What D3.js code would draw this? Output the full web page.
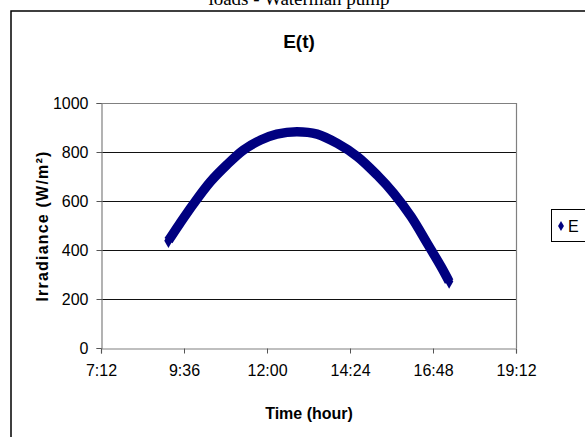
<!DOCTYPE html>
<html>
<head>
<meta charset="utf-8">
<script src="https://cdn.jsdelivr.net/npm/d3@7"></script>
<style>
  body { margin: 0; background: #fff; }
  svg { display: block; }
</style>
</head>
<body>
<div id="chart"></div>
<script>
// Datos
const times = ["9:09", "9:29", "9:53", "10:22", "10:50", "11:19", "11:49", "12:17", "12:52",
               "13:27", "14:02", "14:37", "15:11", "15:40", "16:10", "16:38", "17:02", "17:16"];
const irradiance = [438, 509, 590, 679, 747, 808, 849, 873, 883,
                    873, 835, 781, 706, 631, 536, 427, 332, 271];
const xTicks = ["7:12", "9:36", "12:00", "14:24", "16:48", "19:12"];
const yTicks = [0, 200, 400, 600, 800, 1000];
const seriesName = "E";

const toHours = s => { const p = s.split(":"); return +p[0] + (+p[1]) / 60; };
const data = times.map((t, i) => ({ t: toHours(t), v: irradiance[i] }));

const svgWidth = 585, svgHeight = 437;
const margin = { top: 103, right: 70, bottom: 89, left: 101 };
const width = 516 - margin.left;
const height = 348 - margin.top;
const font = "'Liberation Sans', Arial, sans-serif";

const root = d3.select("#chart").append("svg")
    .attr("width", svgWidth)
    .attr("height", svgHeight);

// texto de arriba (cortado, como en la figura) y marco exterior
root.append("text")
    .attr("x", 299).attr("y", 5)
    .attr("text-anchor", "middle")
    .attr("font-family", "'Liberation Serif', 'Times New Roman', serif")
    .attr("font-size", 19)
    .text("loads - Waterman pump");

root.append("rect")
    .attr("x", 11).attr("y", 11)
    .attr("width", 640).attr("height", 500)
    .attr("fill", "none")
    .attr("stroke", "#000")
    .attr("stroke-width", 1.5);

root.append("text")
    .attr("x", 299).attr("y", 48)
    .attr("text-anchor", "middle")
    .attr("font-family", font)
    .attr("font-weight", "bold")
    .attr("font-size", 19)
    .text("E(t)");

const svg = root.append("g")
    .attr("transform", `translate(${margin.left}, ${margin.top})`);

const x = d3.scaleLinear()
    .domain([toHours(xTicks[0]), toHours(xTicks[xTicks.length - 1])])
    .range([0, width]);

const y = d3.scaleLinear()
    .domain([0, 1000])
    .range([height, 0]);

// rejilla
svg.selectAll(".grid")
    .data(yTicks.filter(d => d > 0 && d < 1000))
    .enter().append("line")
    .attr("x1", 0).attr("x2", width)
    .attr("y1", d => Math.round(y(d)) + 0.5)
    .attr("y2", d => Math.round(y(d)) + 0.5)
    .attr("stroke", "#111")
    .attr("stroke-width", 1);

// borde del area
svg.append("path")
    .attr("d", `M0.5,0.5H${width + 0.5}V${height}`)
    .attr("fill", "none")
    .attr("stroke", "#808080")
    .attr("stroke-width", 1.2);

// ejes
const xAxis = svg.append("g")
    .attr("transform", `translate(0, ${height + 0.5})`)
    .call(d3.axisBottom(x)
        .tickValues(xTicks.map(toHours))
        .tickFormat((d, i) => xTicks[i])
        .tickSize(5)
        .tickPadding(11));

const yAxis = svg.append("g")
    .attr("transform", "translate(0.5, 0)")
    .call(d3.axisLeft(y)
        .tickValues(yTicks)
        .tickFormat(d3.format("d"))
        .tickSize(5)
        .tickPadding(8));

[xAxis, yAxis].forEach(a => {
    a.select(".domain").attr("stroke", "#808080").attr("stroke-width", 1.2);
    a.selectAll(".tick line").attr("stroke", "#555");
    a.selectAll(".tick text")
        .attr("font-family", font)
        .attr("font-size", 16)
        .attr("fill", "#000");
});

// serie E
const color = "#000080";
svg.append("path")
    .datum(data)
    .attr("d", d3.line().x(d => x(d.t)).y(d => y(d.v)).curve(d3.curveCatmullRom))
    .attr("fill", "none")
    .attr("stroke", color)
    .attr("stroke-width", 9.5);

svg.selectAll(".pt")
    .data([data[0], data[data.length - 1]])
    .enter().append("path")
    .attr("transform", d => `translate(${x(d.t)}, ${y(d.v)})`)
    .attr("d", d3.symbol(d3.symbolDiamond, 60))
    .attr("fill", color);

// titulos de ejes
root.append("text")
    .attr("x", 309).attr("y", 419)
    .attr("text-anchor", "middle")
    .attr("font-family", font)
    .attr("font-weight", "bold")
    .attr("font-size", 16)
    .text("Time (hour)");

root.append("text")
    .attr("transform", "translate(48, 226) rotate(-90)")
    .attr("text-anchor", "middle")
    .attr("font-family", font)
    .attr("font-weight", "bold")
    .attr("font-size", 16)
    .attr("letter-spacing", 1.2)
    .text("Irradiance (W/m²)");

// leyenda
const legend = root.append("g").attr("transform", "translate(551, 209)");
legend.append("rect")
    .attr("x", 0.5).attr("y", 0.5)
    .attr("width", 40).attr("height", 32)
    .attr("fill", "#fff")
    .attr("stroke", "#000");
legend.append("path")
    .attr("transform", "translate(10, 17)")
    .attr("d", d3.symbol(d3.symbolDiamond, 30))
    .attr("fill", color);
legend.append("text")
    .attr("x", 17).attr("y", 22.5)
    .attr("font-family", font)
    .attr("font-size", 16)
    .text(seriesName);
</script>
</body>
</html>
